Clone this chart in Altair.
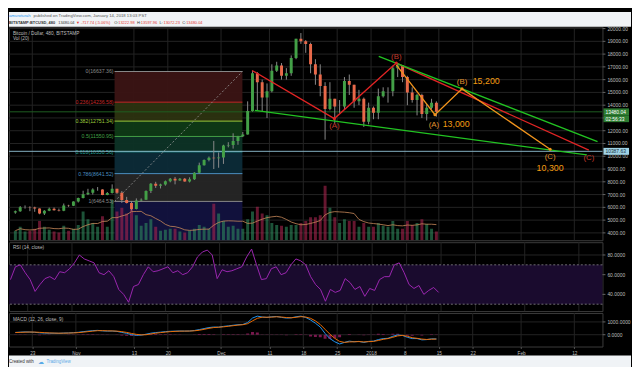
import altair as alt
import pandas as pd

FONT = "Liberation Sans"
W = 603
H1, H2, H3 = 217, 70, 34
TOTAL_W = 632
LIGHT = "#f0f3f6"
AXC = "#bdbdbd"

# ---------------- data (daily candles, BITSTAMP BTCUSD) ----------------
dates = pd.date_range("2017-10-19 12:00", periods=88, freq="D")
opens = [5600, 5700, 6000, 6010, 5980, 5900, 5520, 5740, 5890, 5770, 5740, 6140, 6130,
         6450, 6740, 7020, 7150, 7390, 7390, 6970, 7120, 7450, 7140, 6570, 6350, 5870, 6530, 6600, 7280,
         7850, 7700, 7780, 8040, 8240, 8100, 8230, 8020, 8200, 8700, 9290, 9710, 9890, 9850,
         9910, 10850, 10880, 11200, 11570, 11700, 13550, 16500, 15800, 14600, 15100, 16700, 17100, 16300,
         16500, 17700, 19200, 19000, 18800, 17200, 16400, 15500, 13700, 14500, 13900, 13900, 15900, 15600,
         14300, 14500, 12700,
         13800, 13400, 14700, 15100, 15100, 16900, 17100, 16200, 15000, 14400, 14800, 13300, 13800, 14200]
closes = [5700, 6000, 6010, 5980, 5900, 5520, 5740, 5890, 5770, 5740, 6140, 6130, 6450,
          6740, 7020, 7150, 7390, 7390, 6970, 7120, 7450, 7140, 6570, 6350, 5870, 6530, 6600, 7280, 7850,
          7700, 7780, 8040, 8240, 8100, 8230, 8020, 8200, 8700, 9290, 9710, 9890, 9850, 9910,
          10850, 10880, 11200, 11570, 11700, 13550, 16500, 15800, 14600, 15100, 16700, 17100, 16300, 16500,
          17700, 19200, 19000, 18800, 17200, 16400, 15500, 13700, 14500, 13900, 13900, 15900, 15600, 14300,
          14500, 12700, 13800,
          13400, 14700, 15100, 15100, 16900, 17100, 16200, 15000, 14400, 14800, 13300, 13800, 14200, 13480]
highs = [5750, 6100, 6150, 6080, 6050, 5920, 5780, 5980, 5990, 5900, 6300, 6200, 6470,
         6760, 7300, 7450, 7490, 7590, 7420, 7200, 7800, 7450, 7280, 6820, 6500, 6700, 6700, 7330, 7900,
         8000, 7850, 8100, 8300, 8380, 8300, 8300, 8350, 8750, 9500, 9750, 9980, 11200, 10300,
         10900, 11100, 11800, 11600, 11900, 14300, 16700, 16600, 16000, 15700, 17200, 17400, 17300, 16900,
         17900, 19200, 19650, 19100, 18900, 17600, 17200, 15800, 15800, 14500, 14400, 16200, 16400, 15600,
         15200, 14600, 14200,
         13900, 15300, 15400, 15400, 17100, 17300, 17100, 16300, 15400, 14900, 14900, 14100, 14500, 14300]
lows = [5500, 5650, 5900, 5700, 5650, 5460, 5400, 5700, 5740, 5680, 5700, 6040, 6100,
        6380, 6700, 6960, 7000, 7300, 6950, 6950, 7080, 7050, 6350, 6300, 5750, 5840, 6450, 6590, 7120,
        7520, 7480, 7700, 7960, 7800, 8080, 8000, 7950, 8150, 8650, 9270, 9600, 9000, 9100,
        9400, 10700, 10600, 10900, 11500, 11700, 13500, 13600, 13500, 13000, 15000, 16600, 16000, 16000,
        16300, 17600, 18800, 18100, 16500, 15600, 14700, 11300, 13600, 12600, 13400, 13700, 14800, 13800,
        14000, 12300, 12500,
        12900, 12900, 14600, 14200, 14700, 16200, 15800, 14000, 14200, 13200, 13000, 12800, 13700, 13100]
volumes = [10, 14, 9, 10, 12, 20, 14, 11, 9, 8, 15, 10, 12,
           16, 30, 22, 18, 14, 25, 14, 42, 30, 34, 28, 36, 26, 15, 18, 22,
           14, 10, 11, 12, 12, 9, 8, 10, 12, 16, 14, 12, 38, 28,
           20, 14, 15, 12, 12, 22, 30, 35, 28, 26, 18, 16, 15, 14,
           16, 16, 18, 20, 24, 24, 26, 57, 34, 24, 18, 22, 20, 20,
           14, 18, 14,
           14, 18, 15, 14, 20, 12, 12, 20, 16, 18, 22, 17, 12, 9]
rsi = [55, 68, 70, 62, 55, 43, 50, 56, 58, 55, 63, 62, 66,
       72, 80, 76, 74, 72, 62, 60, 64, 58, 45, 40, 32, 48, 50, 60, 68,
       63, 64, 66, 68, 62, 64, 60, 62, 68, 78, 83, 85, 80, 56,
       65, 63, 64, 66, 68, 78, 86, 70, 55, 56, 66, 68, 60, 62,
       70, 76, 74, 70, 58, 50, 45, 33, 45, 42, 44, 56, 52, 45,
       48, 38, 46,
       44, 55, 58, 58, 70, 72, 62, 50, 46, 49, 40, 44, 47, 42]
macd = [180, 200, 220, 210, 190, 150, 130, 120, 120, 110, 130, 140, 160,
        190, 240, 280, 320, 340, 300, 280, 290, 260, 180, 110, 10, -40, -30, 40, 120,
        170, 200, 240, 270, 280, 290, 285, 290, 330, 400, 480, 560, 600, 590,
        650, 690, 740, 780, 800, 950, 1300, 1450, 1380, 1350, 1400, 1420, 1350, 1300,
        1320, 1400, 1450, 1350, 1150, 900, 600, 100, -300, -550, -720, -600, -500, -550,
        -520, -600, -520,
        -500, -380, -300, -280, -120, -20, -60, -200, -300, -300, -400, -380, -320, -330]
signal = [170, 185, 200, 210, 205, 185, 160, 140, 128, 120, 122, 130, 142,
          165, 200, 240, 280, 315, 320, 305, 295, 280, 240, 180, 100, 30, -10, 0, 60,
          120, 165, 205, 240, 262, 278, 283, 287, 305, 350, 420, 500, 560, 585,
          615, 660, 705, 750, 780, 860, 1080, 1280, 1370, 1365, 1375, 1400, 1380, 1340,
          1320, 1360, 1410, 1380, 1280, 1080, 800, 420, 40, -280, -520, -600, -560, -550,
          -535, -560, -540,
          -520, -450, -360, -300, -200, -90, -50, -120, -230, -280, -340, -370, -350, -340]

tick_dates = ["2017-10-23", "2017-11-01", "2017-11-13", "2017-11-20", "2017-12-01", "2017-12-11",
              "2017-12-18", "2017-12-25", "2018-01-01", "2018-01-08", "2018-01-15", "2018-01-22",
              "2018-02-01", "2018-02-12"]
tick_labels = ["23", "Nov", "13", "20", "Dec", "11", "18", "25", "2018", "8", "15", "22", "Feb", "12"]
price_ticks = [4000, 5000, 6000, 7000, 8000, 9000, 10000, 11000, 12000, 13000, 14000, 15000,
               16000, 17000, 18000, 19000, 20000]
# 13000.00 sits under the last-price / countdown boxes in the reference, so it is not printed
price_labels = [4000, 5000, 6000, 7000, 8000, 9000, 10000, 11000, 12000, 14000, 15000,
                16000, 17000, 18000, 19000, 20000]
rsi_ticks = [40, 60, 80]
macd_ticks = [0, 1000]

fib_ratios = ["0", "0.236", "0.382", "0.5", "0.618", "0.786", "1"]
fib_prices = [16637.36, 14236.58, 12751.34, 11550.95, 10350.56, 8641.52, 6464.53]
fib_line_colors = ["#8a8a8a", "#c62828", "#9ccc3c", "#43a047", "#26a69a", "#4a90c2", "#8a8a8a"]
fib_band_colors = ["#3b1414", "#2c3310", "#0f3a16", "#0d3326", "#0c2b38", "#262626", "#12123f"]
fib_start, fib_end = "2017-11-09T00:00:00", "2017-12-05T10:00:00"

red_dates = ["2017-12-07T10:00:00", "2017-12-24T10:00:00", "2018-01-06T05:00:00", "2018-02-15T00:00:00"]
red_prices = [16720, 12950, 17300, 10475]
green_up_dates = ["2018-01-02T14:00:00", "2018-02-16T19:00:00"]
green_up_prices = [17825, 11150]
green_lo_dates = ["2017-12-08T00:00:00", "2018-02-14T14:00:00"]
green_lo_prices = [13600, 10100]
orange_dates = ["2018-01-06T05:00:00", "2018-01-14T05:00:00", "2018-01-19T19:00:00", "2018-02-07T00:00:00"]
orange_prices = [17150, 13250, 15275, 10550]

wave_texts = ["(A)", "(B)", "(C)", "(A)", "(B)", "(C)", "13,000", "15,200", "10,300"]
wave_dates = ["2017-12-24T10:00:00", "2018-01-06T05:00:00", "2018-02-15T00:00:00",
              "2018-01-14T00:00:00", "2018-01-19T19:00:00", "2018-02-07T00:00:00",
              "2018-01-18T14:00:00", "2018-01-24T19:00:00", "2018-02-07T00:00:00"]
wave_prices = [12350, 17750, 9875, 12450, 15800, 9950, 12500, 15875, 9050]
wave_colors = ["#c0392b", "#c0392b", "#c0392b", "#e0922e", "#e0922e", "#e0922e",
               "#f39c12", "#f39c12", "#f39c12"]
wave_sizes = [8, 8, 8, 8, 8, 8, 9, 9, 9]

last_price, last_label, time_label = 13480.04, "13480.04", "02:56:33"
line_price, line_label = 10387.63, "10387.63"

# ---------------- tables ----------------
df = pd.DataFrame({"date": dates, "open": opens, "high": highs, "low": lows, "close": closes,
                   "vol": volumes, "rsi": rsi, "macd": macd, "signal": signal})
ticks_df = pd.DataFrame({"date": [d + "T00:00:00" for d in tick_dates]})
fib_df = pd.DataFrame({"start": fib_start, "end": fib_end, "p": fib_prices, "lc": fib_line_colors,
                       "label": [f"{r}({p:.2f})" for r, p in zip(fib_ratios, fib_prices)]})
band_df = pd.DataFrame({"start": fib_start, "end": fib_end, "top": fib_prices,
                        "bot": fib_prices[1:] + [0], "fill": fib_band_colors})
diag_df = pd.DataFrame({"d": [fib_start, fib_end], "p": [fib_prices[-1], fib_prices[0]]})
lines_df = pd.concat([
    pd.DataFrame({"id": "red", "i": range(4), "d": red_dates, "p": red_prices, "c": "#e02424"}),
    pd.DataFrame({"id": "gu", "i": range(2), "d": green_up_dates, "p": green_up_prices, "c": "#22c322"}),
    pd.DataFrame({"id": "gl", "i": range(2), "d": green_lo_dates, "p": green_lo_prices, "c": "#22c322"}),
    pd.DataFrame({"id": "or", "i": range(4), "d": orange_dates, "p": orange_prices, "c": "#f0931c"}),
])
vert_df = pd.DataFrame({"d": orange_dates[1:] + red_dates[1:3],
                        "p": orange_prices[1:] + red_prices[1:3],
                        "c": ["#f0931c"] * 3 + ["#e02424"] * 2})
wave_df = pd.DataFrame({"d": wave_dates, "p": wave_prices, "t": wave_texts, "c": wave_colors,
                        "s": wave_sizes})
box_df = pd.DataFrame({"p": [last_price, line_price], "t": [last_label, line_label],
                       "bg": ["#2e7d32", "#9fd3e6"], "fg": ["#ffffff", "#163040"]})
time_df = pd.DataFrame({"p": [last_price], "t": [time_label]})
hline_df = pd.DataFrame({"p": [line_price, last_price], "c": ["#86b3c4", "#1f5f22"]})
one = pd.DataFrame({"k": [0]})

# ---------------- scales ----------------
xs = alt.Scale(domain=[alt.DateTime(year=2017, month=10, date=19, hours=4, minutes=48),
                       alt.DateTime(year=2018, month=2, date=16, hours=19, minutes=12)])
ps = alt.Scale(domain=[3425, 20150], zero=False, nice=False)
vs = alt.Scale(domain=[0, 223], zero=False, nice=False)
rs = alt.Scale(domain=[23, 93], zero=False, nice=False)
ms = alt.Scale(domain=[-920, 1690], zero=False, nice=False)


def X(f, **kw):
    return alt.X(f, type="temporal", scale=xs, axis=None, **kw)


def Xd(f):
    return alt.X(f, type="temporal", scale=xs)


def txt(s, x, y, size, color, weight="normal", align="left"):
    return alt.Chart(one).mark_text(text=s, fontSize=size, color=color, fontWeight=weight,
                                    align=align, baseline="middle", font=FONT).encode(
        x=alt.value(x), y=alt.value(y))


def vgrid(axis=None):
    if axis is None:
        return alt.Chart(ticks_df).mark_rule(color="#242424", strokeWidth=1).encode(x=X("date"))
    return alt.Chart(ticks_df).mark_rule(color="#242424", strokeWidth=1).encode(
        x=alt.X("date:T", scale=xs, axis=axis))


def right_labels(values, scale, fmt, label_values=None):
    """Right-hand price scale drawn as grid rules, ticks and text through the y scale."""
    d = pd.DataFrame({"v": values})
    dl = pd.DataFrame({"v": values if label_values is None else label_values})
    grid = alt.Chart(d).mark_rule(color="#242424", strokeWidth=1).encode(
        y=alt.Y("v:Q", scale=scale, axis=None))
    ticks = alt.Chart(d).mark_rule(color="#666666", strokeWidth=1).encode(
        x=alt.value(W), x2=alt.value(W + 3), y=alt.Y("v:Q", scale=scale, axis=None))
    labels = alt.Chart(dl).transform_calculate(lab=f"format(datum.v, '{fmt}')").mark_text(
        fontSize=5, font=FONT, color=AXC, align="left", baseline="middle").encode(
        x=alt.value(W + 5), y=alt.Y("v:Q", scale=scale, axis=None), text="lab:N")
    return grid, ticks, labels


# ---------------- price pane ----------------
p_grid, p_ticks, p_labels = right_labels(price_ticks, ps, ".2f", price_labels)
bands = alt.Chart(band_df).mark_rect(clip=True, opacity=0.95).encode(
    x=X("start"), x2="end", y=alt.Y("top:Q", scale=ps, axis=None), y2="bot:Q",
    color=alt.Color("fill:N", scale=None))
back = alt.layer(vgrid(), p_grid, bands)

vol_bars = alt.Chart(df).mark_bar(width=3, opacity=0.6, clip=True).encode(
    x=X("date"), y=alt.Y("vol:Q", scale=vs, axis=None),
    color=alt.condition("datum.close >= datum.open", alt.value("#2f8a5e"), alt.value("#a8244e")))
vol_ma = alt.Chart(df).transform_window(
    ma="mean(vol)", frame=[-6, 0], sort=[alt.SortField("date")]
).mark_line(color="#c98a5a", strokeWidth=0.8, clip=True).encode(
    x=X("date"), y=alt.Y("ma:Q", scale=vs, axis=None))
vol = alt.layer(vol_bars, vol_ma)

Yp = lambda f: alt.Y(f, type="quantitative", scale=ps, axis=None)
fib_lines = alt.Chart(fib_df).mark_rule(strokeWidth=1).encode(
    x=X("start"), x2="end", y=Yp("p"), color=alt.Color("lc:N", scale=None))
fib_text = alt.Chart(fib_df).mark_text(align="right", dx=-1, fontSize=5.3, font=FONT,
                                       baseline="middle").encode(
    x=X("start"), y=Yp("p"), text="label:N", color=alt.Color("lc:N", scale=None))
diag = alt.Chart(diag_df).mark_line(strokeDash=[2, 2], color="#9a9a9a", strokeWidth=0.8).encode(
    x=X("d"), y=Yp("p"))
hlines = alt.Chart(hline_df).mark_rule(strokeWidth=1).encode(
    y=Yp("p"), color=alt.Color("c:N", scale=None))
wicks = alt.Chart(df).mark_rule(color="#8a8a8a", strokeWidth=1, clip=True).encode(
    x=X("date"), y=Yp("low"), y2="high:Q")
bodies = alt.Chart(df).mark_bar(width=3, clip=True).encode(
    x=X("date"), y=Yp("open"), y2="close:Q",
    color=alt.condition("datum.close >= datum.open", alt.value("#43a047"), alt.value("#e8694a")))
tlines = alt.Chart(lines_df).mark_line(strokeWidth=1.3, clip=True).encode(
    x=X("d"), y=Yp("p"), detail="id:N", order="i:Q", color=alt.Color("c:N", scale=None))
verts = alt.Chart(vert_df).mark_circle(size=10, opacity=1).encode(
    x=X("d"), y=Yp("p"), color=alt.Color("c:N", scale=None))
waves = alt.Chart(wave_df).mark_text(font=FONT, baseline="middle", align="center").encode(
    x=X("d"), y=Yp("p"), text="t:N", color=alt.Color("c:N", scale=None),
    size=alt.Size("s:Q", scale=None))
boxes = alt.Chart(box_df).transform_calculate(top="datum.p + 270", bot="datum.p - 270").mark_rect().encode(
    x=alt.value(W + 1), x2=alt.value(W + 27), y=Yp("top"), y2="bot:Q",
    color=alt.Color("bg:N", scale=None))
box_txt = alt.Chart(box_df).mark_text(fontSize=5, font=FONT, align="left", baseline="middle").encode(
    x=alt.value(W + 3), y=Yp("p"), text="t:N", color=alt.Color("fg:N", scale=None))
tbox = alt.Chart(time_df).transform_calculate(top="datum.p + 270", bot="datum.p - 270").mark_rect(
    color="#2e7d32", yOffset=7, y2Offset=7).encode(
    x=alt.value(W + 1), x2=alt.value(W + 27), y=Yp("top"), y2="bot:Q")
tbox_txt = alt.Chart(time_df).mark_text(fontSize=5, font=FONT, align="left", baseline="middle",
                                        color="#ffffff", dy=7).encode(
    x=alt.value(W + 3), y=Yp("p"), text="t:N")

header_bg = alt.Chart(one).mark_rect(color=LIGHT).encode(
    x=alt.value(0), x2=alt.value(TOTAL_W), y=alt.value(-15), y2=alt.value(0))
DARK, RED, BLUE = "#333333", "#e53935", "#2196f3"
header = [
    header_bg,
    txt("amuroturah", 0, -11, 4.3, BLUE),
    txt("published on TradingView.com, January 14, 2018 13:03 PST", 25, -11, 4.3, "#555555"),
    txt("BITSTAMP:BTCUSD, 480", 0, -4, 4, DARK, "bold"),
    txt("13480.04", 50, -4, 4, DARK),
    txt("▼", 68, -4, 4, RED),
    txt("-717.74 (-5.06%)", 73, -4, 4, RED),
    txt("O:", 107, -4, 4, DARK), txt("13222.98", 111, -4, 4, RED),
    txt("H:", 130, -4, 4, DARK), txt("13597.96", 134, -4, 4, RED),
    txt("L:", 153, -4, 4, DARK), txt("13072.23", 157, -4, 4, RED),
    txt("C:", 176, -4, 4, DARK), txt("13480.04", 180, -4, 4, RED),
]
front = alt.layer(fib_lines, fib_text, diag, hlines, wicks, bodies, tlines, verts, waves,
                  p_ticks, p_labels,
                  boxes, box_txt, tbox, tbox_txt,
                  txt("Bitcoin / Dollar, 480, BITSTAMP", 4, 7, 4.8, AXC),
                  txt("Vol (20)", 4, 13, 4.8, AXC),
                  *header)

price_panel = alt.layer(back, vol, front).resolve_scale(y="independent").properties(
    width=W, height=H1)

# ---------------- RSI pane ----------------
r_grid, r_ticks, r_labels = right_labels(rsi_ticks, rs, ".4f")
rsi_band = alt.Chart(one).mark_rect(color="#1a0b2e").encode(
    x=alt.value(0), x2=alt.value(W), y=alt.Y(datum=70, type="quantitative", scale=rs, axis=None),
    y2=alt.Y2(datum=30))
rsi_dash = alt.Chart(pd.DataFrame({"v": [30, 70]})).mark_rule(
    color="#8a8a8a", strokeDash=[2, 2], strokeWidth=0.8).encode(
    y=alt.Y("v:Q", scale=rs, axis=None))
rsi_line = alt.Chart(df).mark_line(color="#9c27b0", strokeWidth=1, clip=True).encode(
    x=X("date"), y=alt.Y("rsi:Q", scale=rs, axis=None))
rsi_panel = alt.layer(vgrid(), r_grid, rsi_band, rsi_dash, rsi_line, r_ticks, r_labels,
                      txt("RSI (14, close)", 4, 6, 4.8, AXC)).properties(width=W, height=H2)

# ---------------- MACD pane ----------------
label_expr = " : ".join(
    f"timeFormat(datum.value, '%Y-%m-%d') == '{d}' ? '{l}'" for d, l in zip(tick_dates, tick_labels)
) + " : ''"
x_axis = alt.Axis(values=[alt.DateTime(year=int(d[:4]), month=int(d[5:7]), date=int(d[8:10]))
                          for d in tick_dates],
                  labelExpr=label_expr, labelFontSize=4.8, labelColor=AXC, labelFont=FONT,
                  tickColor="#555", tickSize=2, labelPadding=2, domain=False, grid=False,
                  title=None, labelFlush=False, labelOverlap=False)
m_grid, m_ticks, m_labels = right_labels(macd_ticks, ms, ".4f")
hist = alt.Chart(df).transform_calculate(
    hist="datum.macd - datum.signal", zero="0").mark_bar(
    width=3, color="#8e1b5a", opacity=0.85, clip=True).encode(
    x=Xd("date"), y=alt.Y("hist:Q", scale=ms, axis=None), y2="zero:Q")
macd_l = alt.Chart(df).mark_line(color="#2196f3", strokeWidth=1, clip=True).encode(
    x=Xd("date"), y=alt.Y("macd:Q", scale=ms, axis=None))
sig_l = alt.Chart(df).mark_line(color="#ef6c00", strokeWidth=1, clip=True).encode(
    x=Xd("date"), y=alt.Y("signal:Q", scale=ms, axis=None))
footer_bg = alt.Chart(one).mark_rect(color=LIGHT).encode(
    x=alt.value(0), x2=alt.value(TOTAL_W), y=alt.value(H3 + 9), y2=alt.value(H3 + 26))
macd_panel = alt.layer(
    vgrid(x_axis), m_grid, hist, macd_l, sig_l, m_ticks, m_labels,
    txt("MACD (12, 26, close, 9)", 4, 7, 4.8, AXC),
    footer_bg,
    txt("Created with", 0, H3 + 16, 4.5, "#333333"),
    txt("☁", 29, H3 + 16, 6, "#5aa9e6"),
    txt("TradingView", 38, H3 + 16, 4.5, "#5aa9e6"),
).properties(width=W, height=H3)

chart = alt.vconcat(price_panel, rsi_panel, macd_panel, spacing=0).properties(
    padding=0, background="#000000"
).configure_view(stroke="#3c3c3c", strokeWidth=1)

chart.save("out.html", embed_options={"renderer": "svg", "actions": False})
